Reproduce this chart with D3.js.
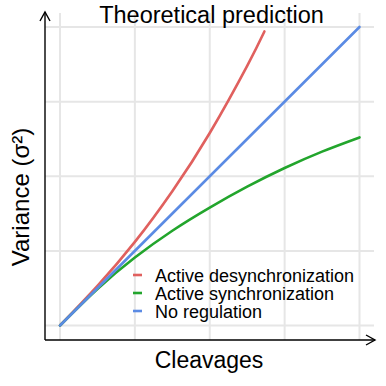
<!DOCTYPE html>
<html>
<head>
<meta charset="utf-8">
<script src="https://cdn.jsdelivr.net/npm/d3@7"></script>
<style>
  body { margin: 0; background: #fff; }
  text { font-family: "Liberation Sans", Arial, sans-serif; fill: #000; }
</style>
</head>
<body>
<script>
// values (grid units)
const desyncX = [0, 0.5, 1, 1.5, 2, 2.5, 2.73];
const desyncY = [0, 0.53, 1.12, 1.8, 2.58, 3.48, 3.94];
const syncX = [0, 0.5, 1, 1.5, 2, 2.5, 3, 3.5, 4];
const syncY = [0, 0.49, 0.91, 1.27, 1.58, 1.86, 2.11, 2.33, 2.52];
const noRegX = [0, 4];
const noRegY = [0, 4];
const gridTicks = [0, 1, 2, 3, 4];
const seriesNames = ["Active desynchronization", "Active synchronization", "No regulation"];
const seriesColors = ["#e0605e", "#22a52c", "#5b8be4"];

const W = 386, H = 386;
const svg = d3.select("body").append("svg").attr("width", W).attr("height", H);

const x = d3.scaleLinear().domain([0, 4]).range([60, 359.5]);
const y = d3.scaleLinear().domain([0, 4]).range([325.5, 27]);

const axLeft = 45, axBottom = 340, axRight = 374, axTop = 12;

// grid
const grid = svg.append("g").attr("stroke", "#e6e6e6").attr("stroke-width", 2);
gridTicks.forEach(function(t) {
    grid.append("line").attr("x1", x(t)).attr("x2", x(t)).attr("y1", axTop + 1).attr("y2", axBottom);
    grid.append("line").attr("x1", axLeft).attr("x2", axRight).attr("y1", y(t)).attr("y2", y(t));
});

// curves
const line = d3.line().x(d => x(d[0])).y(d => y(d[1])).curve(d3.curveNatural);
const series = [
    d3.zip(desyncX, desyncY),
    d3.zip(syncX, syncY),
    d3.zip(noRegX, noRegY)
];
[0, 1, 2].forEach(function(i) {
    svg.append("path").datum(series[i])
        .attr("d", line)
        .attr("fill", "none")
        .attr("stroke", seriesColors[i])
        .attr("stroke-width", 2.6)
        .attr("stroke-linecap", "round");
});

// axes with open arrowheads
const ax = svg.append("g").attr("stroke", "#000").attr("stroke-width", 1.4).attr("fill", "none");
ax.append("line").attr("x1", axLeft).attr("x2", axLeft).attr("y1", axBottom).attr("y2", axTop);
ax.append("line").attr("x1", axLeft).attr("x2", 375).attr("y1", axBottom).attr("y2", axBottom);
ax.append("path").attr("d", `M${axLeft - 5},${axTop + 9}L${axLeft},${axTop}L${axLeft + 5},${axTop + 9}`);
ax.append("path").attr("d", `M${375 - 9},${axBottom - 5}L375,${axBottom}L${375 - 9},${axBottom + 5}`);

// legend
const leg = svg.append("g");
seriesNames.forEach(function(name, i) {
    const ly = 275 + i * 18;
    leg.append("line").attr("x1", 133).attr("x2", 142).attr("y1", ly).attr("y2", ly)
        .attr("stroke", seriesColors[i]).attr("stroke-width", 2.6);
    leg.append("text").attr("x", 155).attr("y", ly + 7).attr("font-size", 18).text(name);
});

// labels
svg.append("text").attr("x", 211.5).attr("y", 23).attr("text-anchor", "middle")
    .attr("font-size", 23.5).text("Theoretical prediction");
svg.append("text").attr("x", 209).attr("y", 368).attr("text-anchor", "middle")
    .attr("font-size", 23).text("Cleavages");
svg.append("text").attr("transform", "translate(28.5,197) rotate(-90)").attr("text-anchor", "middle")
    .attr("font-size", 24).text("Variance (σ²)");
</script>
</body>
</html>
